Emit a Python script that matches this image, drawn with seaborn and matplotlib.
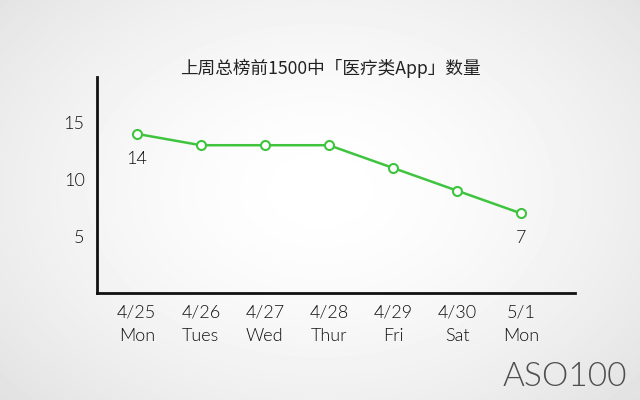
import numpy as np
import pandas as pd
import matplotlib
matplotlib.use("Agg")
import matplotlib.pyplot as plt
import seaborn as sns

dates = ["4/25", "4/26", "4/27", "4/28", "4/29", "4/30", "5/1"]
weekdays = ["Mon", "Tues", "Wed", "Thur", "Fri", "Sat", "Mon"]
counts = [14, 13, 13, 13, 11, 9, 7]
yticks = [5, 10, 15]
title = "上周总榜前1500中「医疗类App」数量"

sns.set_style("white")
plt.rcParams["font.family"] = ["Lato", "Noto Sans CJK SC", "DejaVu Sans"]

W = 300  # light weight

df = pd.DataFrame({"idx": np.arange(len(counts)), "count": counts})

fig = plt.figure(figsize=(6.4, 4.0), dpi=100)

# radial background
bg = fig.add_axes([0, 0, 1, 1], zorder=0)
yy, xx = np.mgrid[0:400, 0:640]
r = np.sqrt(((xx - 320) / 420.0) ** 2 + ((yy - 190) / 300.0) ** 2)
val = 1.0 - 0.11 * np.clip(r, 0, 1.2) ** 1.6
bg.imshow(val, cmap="gray", vmin=0, vmax=1, aspect="auto", extent=[0, 1, 0, 1])
bg.axis("off")

ax = fig.add_axes([97 / 640, 1 - 293 / 400, (575 - 97) / 640, (293 - 77) / 400], zorder=1)
ax.patch.set_alpha(0)

green = "#3ec43e"
sns.lineplot(data=df, x="idx", y="count", ax=ax, color=green, linewidth=1.8,
             marker="o", markersize=6.5, markerfacecolor="white",
             markeredgecolor=green, markeredgewidth=1.5)

ax.set_xlim(-0.62, 6.84)
ax.set_ylim(0, 19)
ax.set_xticks(range(len(dates)))
ax.set_xticklabels([f"{d}\n{w}" for d, w in zip(dates, weekdays)], fontsize=13,
                   linespacing=1.6, color="#111111", fontweight=W)
ax.set_yticks(yticks)
ax.set_yticklabels([str(v) for v in yticks], fontsize=13, color="#111111",
                   fontweight=W)
ax.set_xlabel("")
ax.set_ylabel("")
for s in ["top", "right"]:
    ax.spines[s].set_visible(False)
for s in ["left", "bottom"]:
    ax.spines[s].set_linewidth(2)
    ax.spines[s].set_color("#111111")
ax.tick_params(direction="in", length=4, width=1.5, color="#111111")
ax.tick_params(axis="y", pad=9)
ax.tick_params(axis="x", pad=8)

ax.annotate(str(counts[0]), (0, counts[0]), xytext=(0, -12), textcoords="offset points",
            ha="center", va="top", fontsize=13, color="#111111", fontweight=W)
ax.annotate(str(counts[-1]), (len(counts) - 1, counts[-1]), xytext=(0, -12),
            textcoords="offset points", ha="center", va="top", fontsize=13,
            color="#111111", fontweight=W)

fig.text(330 / 640, 1 - 68 / 400, title, ha="center", va="center", fontsize=12.7,
         color="#222222", family=["Noto Sans CJK SC", "DejaVu Sans"], fontweight=W)

fig.text(565 / 640, 1 - 377 / 400, "ASO100", ha="center", va="center", fontsize=24,
         color="#333333", alpha=0.85, fontweight=W)

fig.savefig("out.png", dpi=100)
